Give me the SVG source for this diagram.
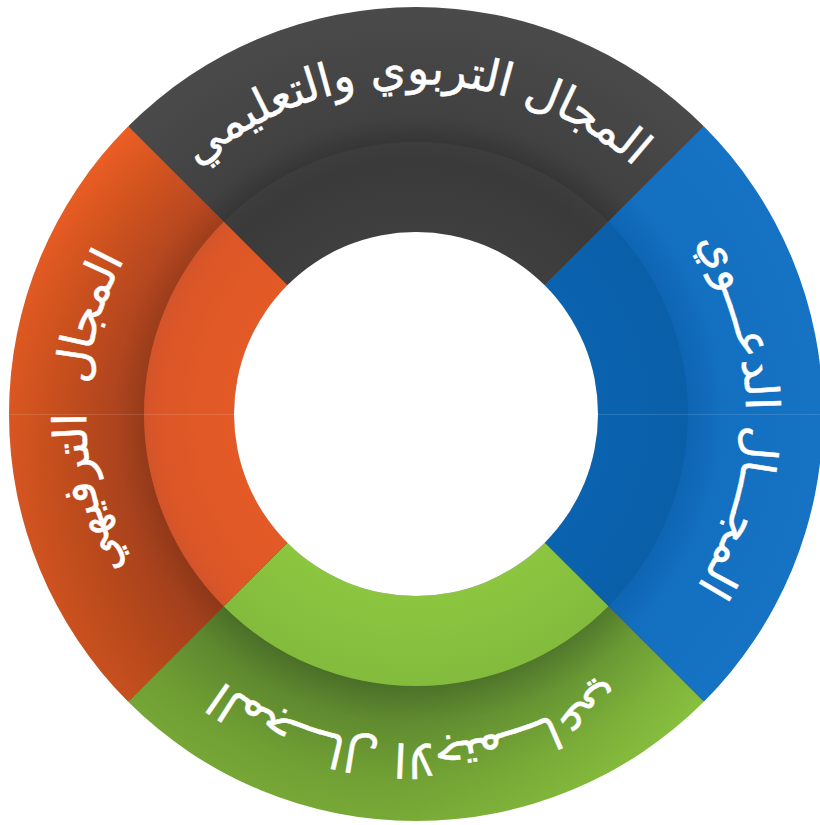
<svg xmlns="http://www.w3.org/2000/svg" xmlns:xlink="http://www.w3.org/1999/xlink" width="820" height="825" viewBox="0 0 820 825">
<style>
.lbl{font-family:"DejaVu Sans",sans-serif;font-size:46px;fill:#ffffff;stroke:#ffffff;stroke-width:0.5;white-space:pre;}
.seam{stroke:#ffffff;stroke-opacity:0.12;stroke-width:1;}
</style>
<defs>
<radialGradient id="gTopO" gradientUnits="userSpaceOnUse" cx="416" cy="414" r="407">
<stop offset="0.668" stop-color="#363636"/><stop offset="0.73" stop-color="#414141"/><stop offset="1" stop-color="#4a4a4a"/>
</radialGradient>
<radialGradient id="gTopB" gradientUnits="userSpaceOnUse" cx="416" cy="414" r="407">
<stop offset="0.447" stop-color="#3f3f3f"/><stop offset="0.62" stop-color="#3a3a3a"/><stop offset="0.668" stop-color="#3d3d3d"/>
</radialGradient>
<radialGradient id="gRightO" gradientUnits="userSpaceOnUse" cx="416" cy="414" r="407">
<stop offset="0.668" stop-color="#0e65b3"/><stop offset="0.75" stop-color="#136fbf"/><stop offset="1" stop-color="#1672c2"/>
</radialGradient>
<radialGradient id="gRightB" gradientUnits="userSpaceOnUse" cx="416" cy="414" r="407">
<stop offset="0.447" stop-color="#0a63af"/><stop offset="0.668" stop-color="#0b5fa9"/>
</radialGradient>
<radialGradient id="gLeftO" gradientUnits="userSpaceOnUse" cx="416" cy="414" r="407">
<stop offset="0.668" stop-color="#a3401c"/><stop offset="0.74" stop-color="#bd4a21"/><stop offset="0.88" stop-color="#d6551f"/><stop offset="1" stop-color="#ec5e24"/>
</radialGradient>
<radialGradient id="gLeftB" gradientUnits="userSpaceOnUse" cx="416" cy="414" r="407">
<stop offset="0.447" stop-color="#e35a26"/><stop offset="0.63" stop-color="#dc5727"/><stop offset="0.668" stop-color="#d3542a"/>
</radialGradient>
<radialGradient id="gBotO" gradientUnits="userSpaceOnUse" cx="416" cy="414" r="407">
<stop offset="0.668" stop-color="#557f2e"/><stop offset="0.76" stop-color="#6d9e36"/><stop offset="0.9" stop-color="#80b63b"/><stop offset="1" stop-color="#88c03e"/>
</radialGradient>
<radialGradient id="gBotB" gradientUnits="userSpaceOnUse" cx="416" cy="414" r="407">
<stop offset="0.447" stop-color="#8cc63f"/><stop offset="0.668" stop-color="#83bb3d"/>
</radialGradient>
<linearGradient id="shadeV" gradientUnits="userSpaceOnUse" x1="0" y1="126" x2="0" y2="702">
<stop offset="0" stop-color="#000" stop-opacity="0"/><stop offset="1" stop-color="#000" stop-opacity="0.16"/>
</linearGradient>
<linearGradient id="shadeH" gradientUnits="userSpaceOnUse" x1="128" y1="0" x2="704" y2="0">
<stop offset="0" stop-color="#000" stop-opacity="0.14"/><stop offset="0.45" stop-color="#000" stop-opacity="0.12"/><stop offset="1" stop-color="#000" stop-opacity="0"/>
</linearGradient>
<path id="arcTop" d="M 86,414 A 330 330 0 0 1 746,414"/>
<path id="arcRight" d="M 416,84 A 330 330 0 0 1 416,744"/>
<path id="arcBot" d="M 746,414 A 330 330 0 0 1 86,414"/>
<path id="arcLeft" d="M 416,744 A 330 330 0 0 1 416,84"/>
</defs>
<rect width="820" height="825" fill="#ffffff"/>
<circle cx="416" cy="414" r="406" fill="#5a5a5a"/>

<g id="node-top">
<path d="M 128.21,126.21 A 407 407 0 0 1 703.79,126.21 L 544.69,285.31 A 182 182 0 0 0 287.31,285.31 Z" fill="url(#gTopO)"/>
<path d="M 223.67,221.67 A 272 272 0 0 1 608.33,221.67 L 544.69,285.31 A 182 182 0 0 0 287.31,285.31 Z" fill="url(#gTopB)"/>
<text class="lbl"><textPath xlink:href="#arcTop" href="#arcTop" startOffset="50%" text-anchor="middle">المجال التربوي والتعليمي</textPath></text>
</g>

<g id="node-right">
<path d="M 703.79,126.21 A 407 407 0 0 1 703.79,701.79 L 544.69,542.69 A 182 182 0 0 0 544.69,285.31 Z" fill="url(#gRightO)"/>
<path d="M 608.33,221.67 A 272 272 0 0 1 608.33,606.33 L 544.69,542.69 A 182 182 0 0 0 544.69,285.31 Z" fill="url(#gRightB)"/>
<line class="seam" x1="598" y1="414.5" x2="823" y2="414.5"/>
<text class="lbl"><textPath xlink:href="#arcRight" href="#arcRight" startOffset="50%" text-anchor="middle">المجـــال الدعـــوي</textPath></text>
</g>

<g id="node-bottom">
<path d="M 703.79,701.79 A 407 407 0 0 1 128.21,701.79 L 287.31,542.69 A 182 182 0 0 0 544.69,542.69 Z" fill="url(#gBotO)"/>
<path d="M 703.79,701.79 A 407 407 0 0 1 128.21,701.79 L 223.67,606.33 A 272 272 0 0 0 608.33,606.33 Z" fill="url(#shadeH)"/>
<path d="M 608.33,606.33 A 272 272 0 0 1 223.67,606.33 L 287.31,542.69 A 182 182 0 0 0 544.69,542.69 Z" fill="url(#gBotB)"/>
<text class="lbl"><textPath xlink:href="#arcBot" href="#arcBot" startOffset="50%" text-anchor="middle">المجـــال الاجتمـــاعي</textPath></text>
</g>

<g id="node-left">
<path d="M 128.21,701.79 A 407 407 0 0 1 128.21,126.21 L 287.31,285.31 A 182 182 0 0 0 287.31,542.69 Z" fill="url(#gLeftO)"/>
<path d="M 128.21,701.79 A 407 407 0 0 1 128.21,126.21 L 223.67,221.67 A 272 272 0 0 0 223.67,606.33 Z" fill="url(#shadeV)"/>
<path d="M 223.67,606.33 A 272 272 0 0 1 223.67,221.67 L 287.31,285.31 A 182 182 0 0 0 287.31,542.69 Z" fill="url(#gLeftB)"/>
<line class="seam" x1="9" y1="414.5" x2="234" y2="414.5"/>
<text class="lbl" xml:space="preserve"><textPath xlink:href="#arcLeft" href="#arcLeft" startOffset="50%" text-anchor="middle">المجال  الترفيهي</textPath></text>
</g>

<circle cx="416" cy="414" r="182" fill="#ffffff"/>
<g id="connectors"></g>
</svg>
